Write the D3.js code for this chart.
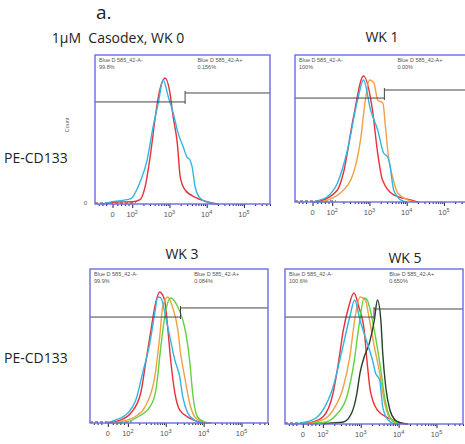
<!DOCTYPE html>
<html>
<head>
<meta charset="utf-8">
<script src="https://cdn.jsdelivr.net/npm/d3@7"></script>
<style>
body{margin:0;background:#fff;}
svg{display:block;font-family:"Liberation Sans",Arial,sans-serif;}
.big{font-family:"Open Sans","Liberation Sans",sans-serif;}
</style>
</head>
<body>
<div id="root"></div>
<script>
// values are [log10 intensity, % of mode]

var titles=['1\u03bcM\u00a0 Casodex, WK 0','WK 1','WK 3','WK 5'];
var gateNeg=['99.8%','100%','99.9%','100.6%'];
var gatePos=['0.156%','0.00%','0.084%','0.650%'];
var gateX=[3.42,3.40,3.39,3.35];
var gateLowY=[68.5,70.7,68.8,69.0];
var gateHighY=[74.5,76.2,74.7,74.2];

var tickPos=[1.47,2,3,4,5];
var tickBase=['0','10','10','10','10'];
var tickSup=['','2','3','4','5'];

var wk0Red=[[1.30,0],[1.54,1.3],[2.0,1.5],[2.21,3],[2.35,12],[2.48,31.5],[2.62,58.4],[2.70,71.8],[2.83,83.2],[2.88,84.6],[3.0,76.5],[3.10,58.4],[3.21,40.9],[3.29,18.1],[3.42,9.4],[3.74,4.0],[4.09,1.0],[4.3,0]];
var wk0Blue=[[1.20,0],[1.41,1.3],[1.95,3.4],[2.21,14.8],[2.40,29.5],[2.56,51.7],[2.70,67.8],[2.83,83.2],[2.97,71.8],[3.10,61.1],[3.23,47.7],[3.37,38.3],[3.47,31.5],[3.55,29.5],[3.61,24.8],[3.69,11.4],[3.82,4.0],[4.09,0.7],[4.3,0]];

var wk1Red=[[1.5,0],[1.68,0.7],[2.14,8.2],[2.30,19.7],[2.57,57.8],[2.84,85.7],[3.08,62.6],[3.22,33.3],[3.35,14.9],[3.65,4.8],[4.11,1.4],[4.3,0]];
var wk1Blue=[[1.5,0],[1.68,1.4],[1.86,3.4],[2.14,12.9],[2.41,35.4],[2.68,69.4],[2.84,83.0],[3.03,62.6],[3.22,49.0],[3.38,33.3],[3.49,30.6],[3.54,26.5],[3.65,8.2],[3.84,1.4],[4.0,0]];
var wk1Orange=[[1.7,0],[1.95,2.0],[2.22,6.1],[2.57,19.7],[2.76,42.2],[2.89,69.4],[3.0,83.0],[3.12,81.0],[3.22,69.4],[3.36,67.3],[3.43,51.0],[3.51,30.6],[3.62,17.0],[3.76,6.1],[4.03,1.4],[4.2,0]];

var wk3Red=[[1.5,0],[1.74,1.3],[2.08,6.5],[2.34,19.5],[2.47,39.0],[2.61,60.4],[2.71,75.3],[2.84,85.1],[2.97,79.9],[3.05,62.3],[3.13,40.9],[3.24,19.5],[3.37,8.4],[3.63,3.2],[3.92,0.6],[4.1,0]];
var wk3Blue=[[1.4,0],[1.66,1.9],[2.0,6.5],[2.21,14.9],[2.39,32.5],[2.58,51.9],[2.71,71.4],[2.79,81.8],[2.87,81.2],[3.0,68.8],[3.11,55.8],[3.24,40.9],[3.37,29.9],[3.45,16.9],[3.58,6.5],[3.76,1.9],[3.95,0]];
var wk3Orange=[[1.6,0],[1.87,1.3],[2.18,3.9],[2.45,10.4],[2.71,29.9],[2.84,55.8],[2.92,75.3],[3.05,81.8],[3.18,75.3],[3.32,60.4],[3.39,45.5],[3.50,29.9],[3.63,13.0],[3.79,3.2],[4.0,0.6],[4.2,0]];
var wk3Green=[[1.7,0],[1.95,0.6],[2.26,3.9],[2.58,10.4],[2.74,21.4],[2.87,49.4],[2.97,68.8],[3.13,81.2],[3.32,75.3],[3.45,66.9],[3.53,58.4],[3.63,40.9],[3.71,19.5],[3.84,3.9],[4.03,0.6],[4.2,0]];

var wk5Red=[[1.5,0],[1.73,1.3],[2.0,4.5],[2.27,20.0],[2.41,39.4],[2.54,60.6],[2.68,75.5],[2.82,84.5],[2.95,75.5],[3.09,60.6],[3.17,39.4],[3.25,21.9],[3.44,9.0],[3.72,3.9],[3.99,1.3],[4.2,0]];
var wk5Blue=[[1.2,0],[1.40,0.6],[1.73,2.6],[2.0,9.0],[2.27,23.9],[2.49,45.8],[2.71,69.0],[2.84,80.0],[2.98,67.1],[3.17,52.3],[3.31,41.3],[3.39,32.9],[3.50,28.4],[3.58,11.0],[3.72,2.6],[3.9,0]];
var wk5Orange=[[1.4,0],[1.67,0.6],[2.0,2.6],[2.27,9.0],[2.54,23.9],[2.71,43.2],[2.84,67.1],[2.98,81.9],[3.12,80.0],[3.23,67.1],[3.36,49.7],[3.50,32.9],[3.63,13.5],[3.80,2.6],[4.0,0]];
var wk5Green=[[1.6,0],[1.81,0.6],[2.08,1.3],[2.35,5.8],[2.63,17.4],[2.82,39.4],[2.95,62.6],[3.09,81.3],[3.17,80.0],[3.25,73.5],[3.39,56.1],[3.53,34.8],[3.63,17.4],[3.77,4.5],[3.91,1.3],[4.1,0]];
var wk5Black=[[2.0,0],[2.22,0.6],[2.54,1.3],[2.76,7.1],[2.90,20.0],[2.98,32.9],[3.09,43.2],[3.23,52.3],[3.36,67.1],[3.44,80.0],[3.53,67.1],[3.58,45.8],[3.66,23.9],[3.77,9.0],[3.91,2.6],[4.07,0.6],[4.25,0]];

var colors={red:'#e8303a',blue:'#2fb6e2',orange:'#f2a044',green:'#5fd23e',black:'#26402a'};

var panels=[
	{x:95,y:55,w:175,h:149,tx:118,ty:43,lines:[[wk0Red,'red'],[wk0Blue,'blue']]},
	{x:295,y:55,w:175,h:147,tx:382,ty:42,lines:[[wk1Red,'red'],[wk1Orange,'orange'],[wk1Blue,'blue']]},
	{x:90,y:269,w:178,h:154,tx:182,ty:259,lines:[[wk3Red,'red'],[wk3Orange,'orange'],[wk3Green,'green'],[wk3Blue,'blue']]},
	{x:285,y:269,w:178,h:155,tx:405,ty:263,lines:[[wk5Red,'red'],[wk5Orange,'orange'],[wk5Green,'green'],[wk5Black,'black'],[wk5Blue,'blue']]}
];

var svg=d3.select('#root').append('svg')
			.attr('width',465)
			.attr('height',444);

svg.append('text').attr('class','big').attr('x',96).attr('y',19).attr('font-size',19).attr('fill','#222').text('a.');

svg.selectAll('.ylab').data([163,363]).enter().append('text')
	.attr('class','ylab big').attr('x',4).attr('y',function(d){return d})
	.attr('font-size',14).attr('fill','#222').text('PE-CD133');

svg.append('text').attr('transform','translate(69,125) rotate(-90)')
	.attr('text-anchor','middle').attr('font-size',5.5).attr('fill','#666').text('Count');
svg.append('text').attr('x',87).attr('y',205).attr('text-anchor','end')
	.attr('font-size',6).attr('fill','#555').text('0');

var minorTicks=[1.1,1.2,1.3,1.6,1.7,1.8,1.9];
[2,3,4].forEach(function(dec){
	d3.range(2,10).forEach(function(k){minorTicks.push(dec+Math.log10(k))})
});
minorTicks.push(5+Math.log10(2),5+Math.log10(3),5+Math.log10(4),5+Math.log10(5));

panels.forEach(function(p,i){
	var scaleX=d3.scaleLinear().domain([1.0,5.7]).range([0,p.w]);
	var scaleY=d3.scaleLinear().domain([0,100]).range([p.h,0]);

	svg.append('text').attr('class','big').attr('x',p.tx).attr('y',p.ty).attr('text-anchor','middle')
		.attr('font-size',14).attr('fill','#222').text(titles[i]);

	var g=svg.append('g').attr('transform','translate('+p.x+','+p.y+')');

	// near-zero noise along the baseline
	g.append('line').attr('x1',0).attr('x2',scaleX(2.1)).attr('y1',p.h-1).attr('y2',p.h-1)
		.attr('stroke','#334').attr('stroke-width',1.2).attr('stroke-dasharray','3,2');

	var line=d3.line()
			.x(function(d){return scaleX(d[0])})
			.y(function(d){return scaleY(d[1])})
			.curve(d3.curveMonotoneX);

	g.selectAll('.hist').data(p.lines).enter().append('path').attr('class','hist')
		.attr('d',function(d){return line(d[0])})
		.attr('fill','none')
		.attr('stroke',function(d){return colors[d[1]]})
		.attr('stroke-width',1.4);

	// gates
	var gx=scaleX(gateX[i]);
	g.append('line').attr('x1',0).attr('x2',gx).attr('y1',scaleY(gateLowY[i])).attr('y2',scaleY(gateLowY[i]))
		.attr('stroke','#444').attr('stroke-width',1);
	g.append('line').attr('x1',gx).attr('x2',p.w).attr('y1',scaleY(gateHighY[i])).attr('y2',scaleY(gateHighY[i]))
		.attr('stroke','#444').attr('stroke-width',1);
	g.append('line').attr('x1',gx).attr('x2',gx).attr('y1',scaleY(gateHighY[i])-2).attr('y2',scaleY(gateLowY[i])+2)
		.attr('stroke','#444').attr('stroke-width',1);

	// gate labels
	var lab=[[4,'Blue D 585_42-A-',gateNeg[i]],[scaleX(3.75),'Blue D 585_42-A+',gatePos[i]]];
	lab.forEach(function(l){
		g.append('text').attr('x',l[0]).attr('y',7).attr('font-size',5.5).attr('fill','#555').text(l[1]);
		g.append('text').attr('x',l[0]).attr('y',14).attr('font-size',5.5).attr('fill','#555').text(l[2]);
	});

	// axis ticks
	var minorAxis=d3.axisBottom(scaleX).tickValues(minorTicks).tickSize(2).tickFormat('');
	var majorAxis=d3.axisBottom(scaleX).tickValues(tickPos).tickSize(4).tickFormat('');
	var ax1=g.append('g').attr('transform','translate(0,'+p.h+')').call(minorAxis);
	var ax2=g.append('g').attr('transform','translate(0,'+p.h+')').call(majorAxis);
	[ax1,ax2].forEach(function(a){
		a.select('.domain').remove();
		a.selectAll('line').attr('stroke','#223');
	});

	var tl=g.selectAll('.tl').data(tickPos).enter().append('text').attr('class','tl')
		.attr('x',function(d){return scaleX(d)}).attr('y',p.h+13)
		.attr('text-anchor','middle').attr('font-size',7.5).attr('fill','#555');
	tl.append('tspan').text(function(d,j){return tickBase[j]});
	tl.append('tspan').attr('dy',-3).attr('font-size',5.5).text(function(d,j){return tickSup[j]});

	g.append('rect').attr('width',p.w).attr('height',p.h)
		.attr('fill','none').attr('stroke','#6b6be2').attr('stroke-width',1.4);
});
</script>
</body>
</html>
